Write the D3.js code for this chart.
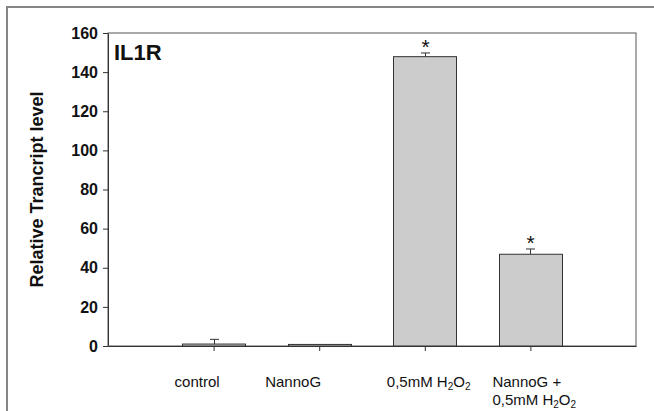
<!DOCTYPE html>
<html><head><meta charset="utf-8">
<script src="https://cdn.jsdelivr.net/npm/d3@7"></script>
<style>body{margin:0;background:#fff}svg{display:block;font-family:"Liberation Sans",Arial,sans-serif}</style>
</head><body>
<script>
const categories = ["control", "NannoG", "0,5mM H2O2", "NannoG + 0,5mM H2O2"];
const values = [1.0, 0.8, 147.9, 46.9];
const errors = [2.4, 0, 1.9, 2.7];
const significant = [false, false, true, true];
const yTicks = [0, 20, 40, 60, 80, 100, 120, 140, 160];
const title = "IL1R";
const yLabel = "Relative Trancript level";

const W = 654, H = 411;
const m = {left:108, right:636, top:33, bottom:346};
const svg = d3.select("body").append("svg").attr("width", W).attr("height", H);

// outer frame
svg.append("path").attr("d", `M7,${H} L7,7 L${W},7`).attr("fill","none").attr("stroke","#858585").attr("stroke-width",2);

const x = d3.scaleLinear().domain([0, categories.length + 1]).range([m.left, m.right]);
const y = d3.scaleLinear().domain([0, 160]).range([m.bottom, m.top]);
const bw = x(0.6) - x(0);

// plot frame
svg.append("rect").attr("x", m.left).attr("y", m.top).attr("width", m.right - m.left).attr("height", m.bottom - m.top)
  .attr("fill","none").attr("stroke","#555").attr("stroke-width",1);

// bars
svg.selectAll("rect.bar").data(values).enter().append("rect").attr("class","bar")
  .attr("x", (d,i) => Math.round(x(i+1) - bw/2) + 0.5)
  .attr("y", d => y(d))
  .attr("width", Math.round(bw))
  .attr("height", d => y(0) - y(d))
  .attr("fill", "#cccccc").attr("stroke", "#333").attr("stroke-width", 1);

// error bars
values.forEach((v, i) => {
  if (!errors[i]) return;
  const cx = Math.round(x(i+1)) + 0.5;
  svg.append("line").attr("x1", cx).attr("x2", cx).attr("y1", y(v)).attr("y2", y(v + errors[i])).attr("stroke","#333");
  svg.append("line").attr("x1", cx - 4.5).attr("x2", cx + 4.5).attr("y1", y(v + errors[i])).attr("y2", y(v + errors[i])).attr("stroke","#333");
  if (significant[i]) {
    svg.append("text").attr("x", cx).attr("y", y(v + errors[i]) + 1).attr("text-anchor","middle")
      .attr("font-size", 21).attr("fill","#111").text("*");
  }
});

// y axis
const yAxis = d3.axisLeft(y).tickValues(yTicks).tickSize(5).tickPadding(5).tickSizeOuter(0);
const gy = svg.append("g").attr("transform", `translate(${m.left},0)`).call(yAxis);
gy.select(".domain").attr("stroke","#333");
gy.selectAll(".tick line").attr("stroke","#333");
gy.selectAll(".tick text").attr("font-size", 16).attr("font-weight","bold").attr("fill","#111")
  .attr("font-family", '"Liberation Sans",Arial,sans-serif');

// x axis
const xAxis = d3.axisBottom(x).tickValues(categories.map((c,i)=>i+1)).tickSize(5).tickFormat("").tickSizeOuter(0);
const gx = svg.append("g").attr("transform", `translate(0,${m.bottom})`).call(xAxis);
gx.select(".domain").attr("stroke","#333");
gx.selectAll(".tick line").attr("stroke","#333");

// category labels
const labelDx = [-39, -54, -38, -38];
function writeChem(t, s) {
  const parts = s.split(/(H2O2)/);
  parts.forEach(p => {
    if (p === "H2O2") {
      t.append("tspan").text("H");
      t.append("tspan").attr("font-size", 10).attr("dy", 3).text("2");
      t.append("tspan").attr("dy", -3).text("O");
      t.append("tspan").attr("font-size", 10).attr("dy", 3).text("2");
    } else if (p) t.append("tspan").text(p);
  });
}
categories.forEach((c, i) => {
  const lx = x(i+1) + labelDx[i];
  if (c.includes(" + ")) {
    const [a, b] = c.split(" + ");
    svg.append("text").attr("x", lx).attr("y", 387).attr("font-size", 15).attr("fill","#111").text(a + " +");
    const t = svg.append("text").attr("x", lx).attr("y", 405).attr("font-size", 15).attr("fill","#111");
    writeChem(t, b);
  } else {
    const t = svg.append("text").attr("x", lx).attr("y", 387).attr("font-size", 15).attr("fill","#111");
    writeChem(t, c);
  }
});

// title
svg.append("text").attr("x", 114).attr("y", 60).attr("font-size", 22).attr("font-weight","bold").attr("fill","#111").text(title);

// y label
svg.append("text").attr("transform", `translate(43,${(m.top+m.bottom)/2}) rotate(-90)`)
  .attr("text-anchor","middle").attr("font-size", 18).attr("font-weight","bold").attr("fill","#111").text(yLabel);
</script>
</body></html>
